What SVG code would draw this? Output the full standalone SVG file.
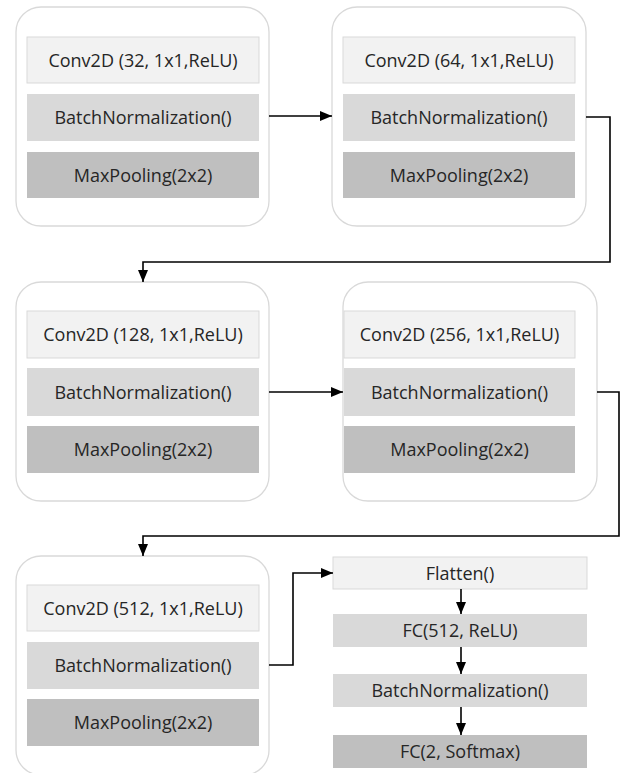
<svg xmlns="http://www.w3.org/2000/svg" width="621" height="773" viewBox="0 0 621 773">
<style>
.outer{fill:#ffffff;stroke:#d9d9d9;stroke-width:1.3}
.l1{fill:#f2f2f2;stroke:#d9d9d9;stroke-width:1}
.l2{fill:#d9d9d9}
.l3{fill:#bfbfbf}
text{font-family:"Open Sans","Noto Sans",sans-serif;font-size:18px;fill:#262626;text-anchor:middle}
.c{fill:none;stroke:#000;stroke-width:1.6}
</style>
<defs>
<marker id="ah" markerUnits="userSpaceOnUse" markerWidth="13" markerHeight="11" refX="12" refY="5" orient="auto">
<path d="M0,0 L12,5 L0,10 z" fill="#000"/>
</marker>
</defs>
<rect width="621" height="773" fill="#ffffff"/>
<g id="block1">
<rect class="outer" x="16" y="7" width="253" height="219" rx="25"/>
<rect class="l1" x="27" y="37" width="232" height="46"/>
<text x="143" y="66.5">Conv2D (32, 1x1,ReLU)</text>
<rect class="l2" x="27" y="94" width="232" height="47"/>
<text x="143" y="124">BatchNormalization()</text>
<rect class="l3" x="27" y="152" width="232" height="46"/>
<text x="143" y="181.5">MaxPooling(2x2)</text>
</g>
<g id="block2">
<rect class="outer" x="332" y="7" width="254" height="219" rx="25"/>
<rect class="l1" x="343" y="37" width="232" height="46"/>
<text x="459" y="66.5">Conv2D (64, 1x1,ReLU)</text>
<rect class="l2" x="343" y="94" width="232" height="47"/>
<text x="459" y="124">BatchNormalization()</text>
<rect class="l3" x="343" y="152" width="232" height="46"/>
<text x="459" y="181.5">MaxPooling(2x2)</text>
</g>
<g id="block3">
<rect class="outer" x="16" y="282" width="253" height="219" rx="25"/>
<rect class="l1" x="27" y="311" width="232" height="47"/>
<text x="143" y="341">Conv2D (128, 1x1,ReLU)</text>
<rect class="l2" x="27" y="368" width="232" height="48"/>
<text x="143" y="398.5">BatchNormalization()</text>
<rect class="l3" x="27" y="426" width="232" height="47"/>
<text x="143" y="456">MaxPooling(2x2)</text>
</g>
<g id="block4">
<rect class="outer" x="343" y="282" width="254" height="219" rx="25"/>
<rect class="l1" x="344" y="311" width="231" height="47"/>
<text x="459.5" y="341">Conv2D (256, 1x1,ReLU)</text>
<rect class="l2" x="344" y="368" width="231" height="48"/>
<text x="459.5" y="398.5">BatchNormalization()</text>
<rect class="l3" x="344" y="426" width="231" height="47"/>
<text x="459.5" y="456">MaxPooling(2x2)</text>
</g>
<g id="block5">
<rect class="outer" x="16" y="556" width="253" height="219" rx="25"/>
<rect class="l1" x="27" y="585" width="232" height="46"/>
<text x="143" y="614.5">Conv2D (512, 1x1,ReLU)</text>
<rect class="l2" x="27" y="642" width="232" height="47"/>
<text x="143" y="672">BatchNormalization()</text>
<rect class="l3" x="27" y="699" width="232" height="47"/>
<text x="143" y="729">MaxPooling(2x2)</text>
</g>
<g id="flatten">
<rect class="l1" x="333" y="557" width="254" height="32"/>
<text x="460" y="579.5">Flatten()</text>
</g>
<g id="fc512">
<rect class="l2" x="333" y="614" width="254" height="33"/>
<text x="460" y="637">FC(512, ReLU)</text>
</g>
<g id="bn6">
<rect class="l2" x="333" y="674" width="254" height="33"/>
<text x="460" y="697">BatchNormalization()</text>
</g>
<g id="fc2">
<rect class="l3" x="333" y="735" width="254" height="33"/>
<text x="460" y="758">FC(2, Softmax)</text>
</g>
<g id="connectors">
<path class="c" d="M269,116 H332" marker-end="url(#ah)"/>
<path class="c" d="M586,117 H610 V262 H143 V282" marker-end="url(#ah)"/>
<path class="c" d="M269,392 H343" marker-end="url(#ah)"/>
<path class="c" d="M597,392 H619 V536 H143 V556" marker-end="url(#ah)"/>
<path class="c" d="M269,665 H293 V573 H333" marker-end="url(#ah)"/>
<path class="c" d="M461,589 V614" marker-end="url(#ah)"/>
<path class="c" d="M461,647 V674" marker-end="url(#ah)"/>
<path class="c" d="M461,707 V735" marker-end="url(#ah)"/>
</g>
</svg>
